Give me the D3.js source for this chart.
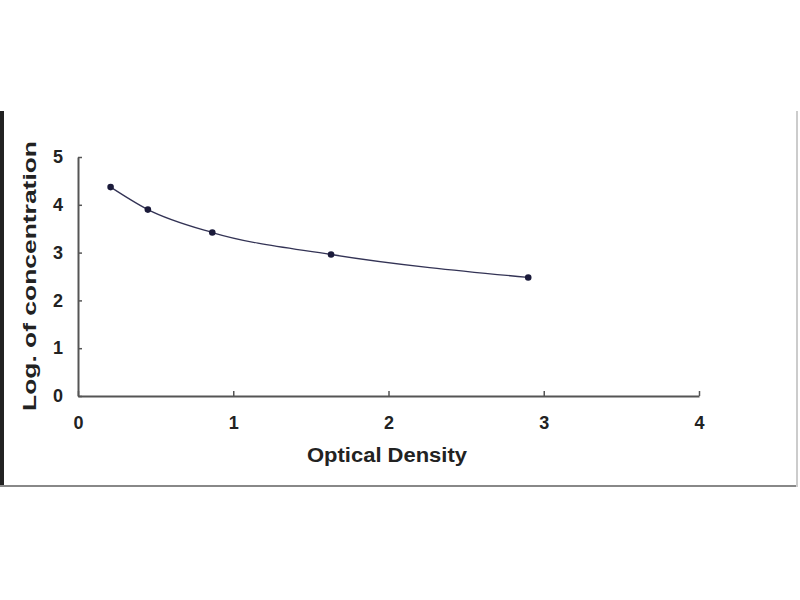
<!DOCTYPE html>
<html>
<head>
<meta charset="utf-8">
<script src="https://cdn.jsdelivr.net/npm/d3@7"></script>
<style>
body { margin: 0; background: #fff; }
svg { display: block; }
</style>
</head>
<body>
<script>
var odValues = [0.21, 0.45, 0.865, 1.63, 2.90];
var logConc = [4.37, 3.90, 3.42, 2.96, 2.48];
var xTicks = [0, 1, 2, 3, 4];
var yTicks = [0, 1, 2, 3, 4, 5];

var W = 800, H = 600;
var font = "Liberation Sans, Arial, sans-serif";
var svg = d3.select("body").append("svg").attr("width", W).attr("height", H);

// frame
svg.append("line").attr("x1", 2).attr("y1", 111).attr("x2", 2).attr("y2", 487)
    .attr("stroke", "#222").attr("stroke-width", 4);
svg.append("line").attr("x1", 0).attr("y1", 486).attr("x2", 798).attr("y2", 486)
    .attr("stroke", "#888").attr("stroke-width", 2);
svg.append("line").attr("x1", 797).attr("y1", 111).attr("x2", 797).attr("y2", 487)
    .attr("stroke", "#ccc").attr("stroke-width", 2);

var x = d3.scaleLinear().domain([0, 4]).range([78, 699]);
var y = d3.scaleLinear().domain([0, 5]).range([396, 157]);

var xAxis = svg.append("g").attr("transform", "translate(0," + y(0) + ")")
    .call(d3.axisBottom(x).tickValues(xTicks).tickFormat(d3.format("d"))
        .tickSize(-5).tickPadding(20).tickSizeOuter(0));
var yAxis = svg.append("g").attr("transform", "translate(" + x(0) + ",0)")
    .call(d3.axisLeft(y).tickValues(yTicks).tickFormat(d3.format("d"))
        .tickSize(-4).tickPadding(15).tickSizeOuter(0));

[xAxis, yAxis].forEach(function (a) {
    a.select(".domain").attr("stroke", "#555").attr("stroke-width", 2);
    a.selectAll(".tick line").attr("stroke", "#555").attr("stroke-width", 1.5);
    a.selectAll(".tick text")
        .attr("font-family", font).attr("font-weight", "bold")
        .attr("font-size", 18).attr("fill", "#222");
});

var pts = odValues.map(function (d, i) { return [d, logConc[i]]; });

var line = d3.line()
    .x(function (d) { return x(d[0]); })
    .y(function (d) { return y(d[1]); })
    .curve(d3.curveMonotoneX);

svg.append("path").datum(pts).attr("d", line)
    .attr("fill", "none").attr("stroke", "#333355").attr("stroke-width", 1.3);

svg.selectAll("circle.pt").data(pts).enter().append("circle")
    .attr("class", "pt")
    .attr("cx", function (d) { return x(d[0]); })
    .attr("cy", function (d) { return y(d[1]); })
    .attr("r", 3.3)
    .attr("fill", "#1a1a3a");

svg.append("text")
    .attr("x", 387).attr("y", 462)
    .attr("text-anchor", "middle")
    .attr("font-family", font)
    .attr("font-weight", "bold").attr("font-size", 20).attr("fill", "#222")
    .attr("textLength", 160).attr("lengthAdjust", "spacingAndGlyphs")
    .text("Optical Density");

svg.append("text")
    .attr("transform", "translate(36,276) rotate(-90)")
    .attr("text-anchor", "middle")
    .attr("font-family", font)
    .attr("font-weight", "bold").attr("font-size", 19).attr("fill", "#222")
    .attr("textLength", 270).attr("lengthAdjust", "spacingAndGlyphs")
    .text("Log. of concentration");
</script>
</body>
</html>
